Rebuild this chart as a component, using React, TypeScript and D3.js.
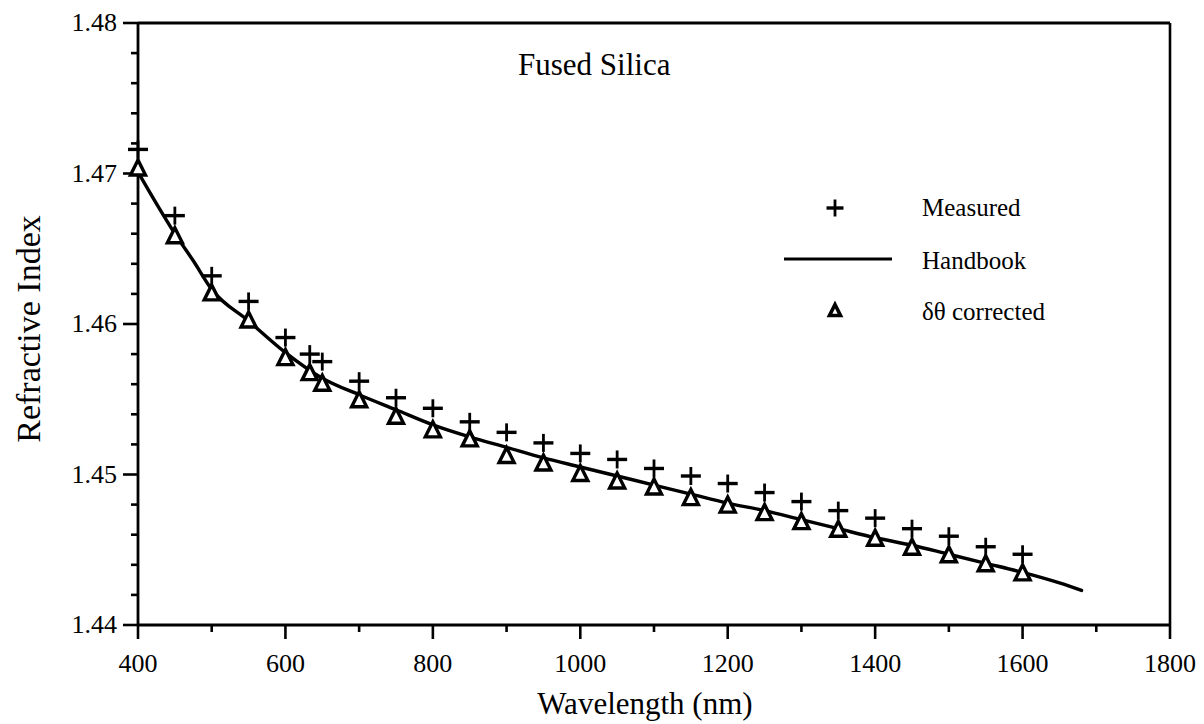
import React from "react";
import * as d3 from "d3";

// Sampled wavelengths (nm) for the two measured series
const wavelengths = [
  400, 450, 500, 550, 600, 633, 650, 700, 750, 800, 850, 900, 950, 1000, 1050,
  1100, 1150, 1200, 1250, 1300, 1350, 1400, 1450, 1500, 1550, 1600,
];

// "+" Measured refractive index
const measuredIndex = [
  1.4716, 1.4672, 1.4632, 1.4615, 1.4591, 1.458, 1.4575, 1.4562, 1.4551, 1.4544,
  1.4535, 1.4528, 1.4521, 1.4514, 1.451, 1.4504, 1.4499, 1.4494, 1.4488, 1.4482,
  1.4476, 1.4471, 1.4464, 1.4459, 1.4452, 1.4447,
];

// Triangle: δθ corrected refractive index
const correctedIndex = [
  1.4704, 1.4659, 1.4621, 1.4603, 1.4578, 1.4568, 1.4561, 1.455, 1.4539, 1.453,
  1.4524, 1.4513, 1.4508, 1.4501, 1.4496, 1.4492, 1.4485, 1.448, 1.4475, 1.4469,
  1.4464, 1.4458, 1.4452, 1.4447, 1.4441, 1.4435,
];

// Handbook dispersion curve
const handbookWavelengths = [
  400, 425, 450, 475, 500, 550, 600, 650, 700, 750, 800, 850, 900, 950, 1000,
  1050, 1100, 1150, 1200, 1250, 1300, 1350, 1400, 1450, 1500, 1550, 1600, 1650,
  1680,
];
const handbookIndex = [
  1.4701, 1.468, 1.466, 1.4642, 1.4623, 1.4602, 1.4581, 1.4564, 1.4553, 1.4543,
  1.4533, 1.4525, 1.4518, 1.4511, 1.4505, 1.4499, 1.4493, 1.4487, 1.4481,
  1.4476, 1.447, 1.4464, 1.4458, 1.4453, 1.4447, 1.4441, 1.4435, 1.4428, 1.4423,
];

const xMajorTicks = [400, 600, 800, 1000, 1200, 1400, 1600, 1800];
const xMinorTicks = [500, 700, 900, 1100, 1300, 1500, 1700];
const yMajorTicks = [1.44, 1.45, 1.46, 1.47, 1.48];
const yTickLabels = ["1.44", "1.45", "1.46", "1.47", "1.48"];
const yMinorTicks = [
  1.442, 1.444, 1.446, 1.448, 1.452, 1.454, 1.456, 1.458, 1.462, 1.464, 1.466,
  1.468, 1.472, 1.474, 1.476, 1.478,
];

const chartTitle = "Fused Silica";
const xTitle = "Wavelength (nm)";
const yTitle = "Refractive Index";
const legendLabels = ["Measured", "Handbook", "δθ corrected"];

const FONT = "'Liberation Serif', 'DejaVu Serif', serif";
const textStyle = { fontFamily: FONT };

const left = 138;
const right = 1170;
const top = 23;
const bottom = 625;

function Cross({ x, y, w = 20, h = 18 }: { x: number; y: number; w?: number; h?: number }) {
  return (
    <g>
      <line x1={x - w / 2} x2={x + w / 2} y1={y} y2={y} stroke="#000" strokeWidth={3.4} />
      <line x1={x} x2={x} y1={y - h / 2} y2={y + h / 2} stroke="#000" strokeWidth={2.8} />
    </g>
  );
}

function Triangle({ x, y, s = 7.5, sw = 3.4 }: { x: number; y: number; s?: number; sw?: number }) {
  const p = `M${x},${y - s}L${x + s},${y + s}L${x - s},${y + s}Z`;
  return <path d={p} fill="#fff" stroke="#000" strokeWidth={sw} strokeLinejoin="miter" />;
}

export default function App() {
  const x = d3.scaleLinear().domain([400, 1800]).range([left, right]);
  const y = d3.scaleLinear().domain([1.44, 1.48]).range([bottom, top]);

  const handbookLine = d3
    .line<number>()
    .x((_, i) => x(handbookWavelengths[i]))
    .y((d) => y(d))
    .curve(d3.curveMonotoneX)(handbookIndex) as string;

  return (
    <svg
      width={1204}
      height={724}
      style={{ position: "absolute", left: 0, top: 0, background: "#fff" }}
    >
      <rect width={1204} height={724} fill="#fff" />

      {/* frame */}
      <line x1={left} x2={right} y1={top} y2={top} stroke="#000" strokeWidth={2.8} />
      <line x1={right} x2={right} y1={top} y2={bottom} stroke="#000" strokeWidth={2.6} />
      <line x1={left} x2={right + 1} y1={bottom} y2={bottom} stroke="#000" strokeWidth={2.8} />
      <line x1={left} x2={left} y1={top - 1} y2={bottom + 1} stroke="#000" strokeWidth={2.8} />

      {/* x ticks */}
      {xMajorTicks.map((t) => (
        <g key={`xm${t}`}>
          <line x1={x(t)} x2={x(t)} y1={bottom} y2={bottom + 14} stroke="#000" strokeWidth={2.6} />
          <text x={x(t)} y={672} fontSize={26} textAnchor="middle" fill="#000" style={textStyle}>
            {t}
          </text>
        </g>
      ))}
      {xMinorTicks.map((t) => (
        <line key={`xn${t}`} x1={x(t)} x2={x(t)} y1={bottom} y2={bottom + 7} stroke="#000" strokeWidth={2.6} />
      ))}

      {/* y ticks */}
      {yMajorTicks.map((t, i) => (
        <g key={`ym${t}`}>
          <line x1={left - 15} x2={left} y1={y(t)} y2={y(t)} stroke="#000" strokeWidth={2.6} />
          <text x={117} y={y(t) + 8} fontSize={26} textAnchor="end" fill="#000" style={textStyle}>
            {yTickLabels[i]}
          </text>
        </g>
      ))}
      {yMinorTicks.map((t) => (
        <line key={`yn${t}`} x1={left - 7} x2={left} y1={y(t)} y2={y(t)} stroke="#000" strokeWidth={2.6} />
      ))}

      {/* titles */}
      <text x={518} y={75} fontSize={31} fill="#000" style={textStyle}>
        {chartTitle}
      </text>
      <text x={645} y={714} fontSize={31} textAnchor="middle" fill="#000" style={textStyle}>
        {xTitle}
      </text>
      <text
        transform={`translate(40, ${329}) rotate(-90)`}
        fontSize={34}
        textAnchor="middle"
        fill="#000"
        style={textStyle}
      >
        {yTitle}
      </text>

      {/* handbook curve */}
      <path d={handbookLine} fill="none" stroke="#000" strokeWidth={3.4} strokeLinecap="round" strokeLinejoin="round" />

      {/* measured */}
      {wavelengths.map((w, i) => (
        <Cross key={`m${w}`} x={x(w)} y={y(measuredIndex[i])} />
      ))}

      {/* corrected */}
      {wavelengths.map((w, i) => (
        <Triangle key={`c${w}`} x={x(w)} y={y(correctedIndex[i])} />
      ))}

      {/* legend */}
      <Cross x={835} y={208} w={17} h={17} />
      <text x={922} y={216} fontSize={25} fill="#000" style={textStyle}>
        {legendLabels[0]}
      </text>
      <line x1={784} x2={892} y1={259} y2={259} stroke="#000" strokeWidth={2.8} />
      <text x={922} y={269} fontSize={25} fill="#000" style={textStyle}>
        {legendLabels[1]}
      </text>
      <Triangle x={835} y={310} s={5.5} sw={3.6} />
      <text x={922} y={320} fontSize={25} fill="#000" style={textStyle}>
        {legendLabels[2]}
      </text>
    </svg>
  );
}
